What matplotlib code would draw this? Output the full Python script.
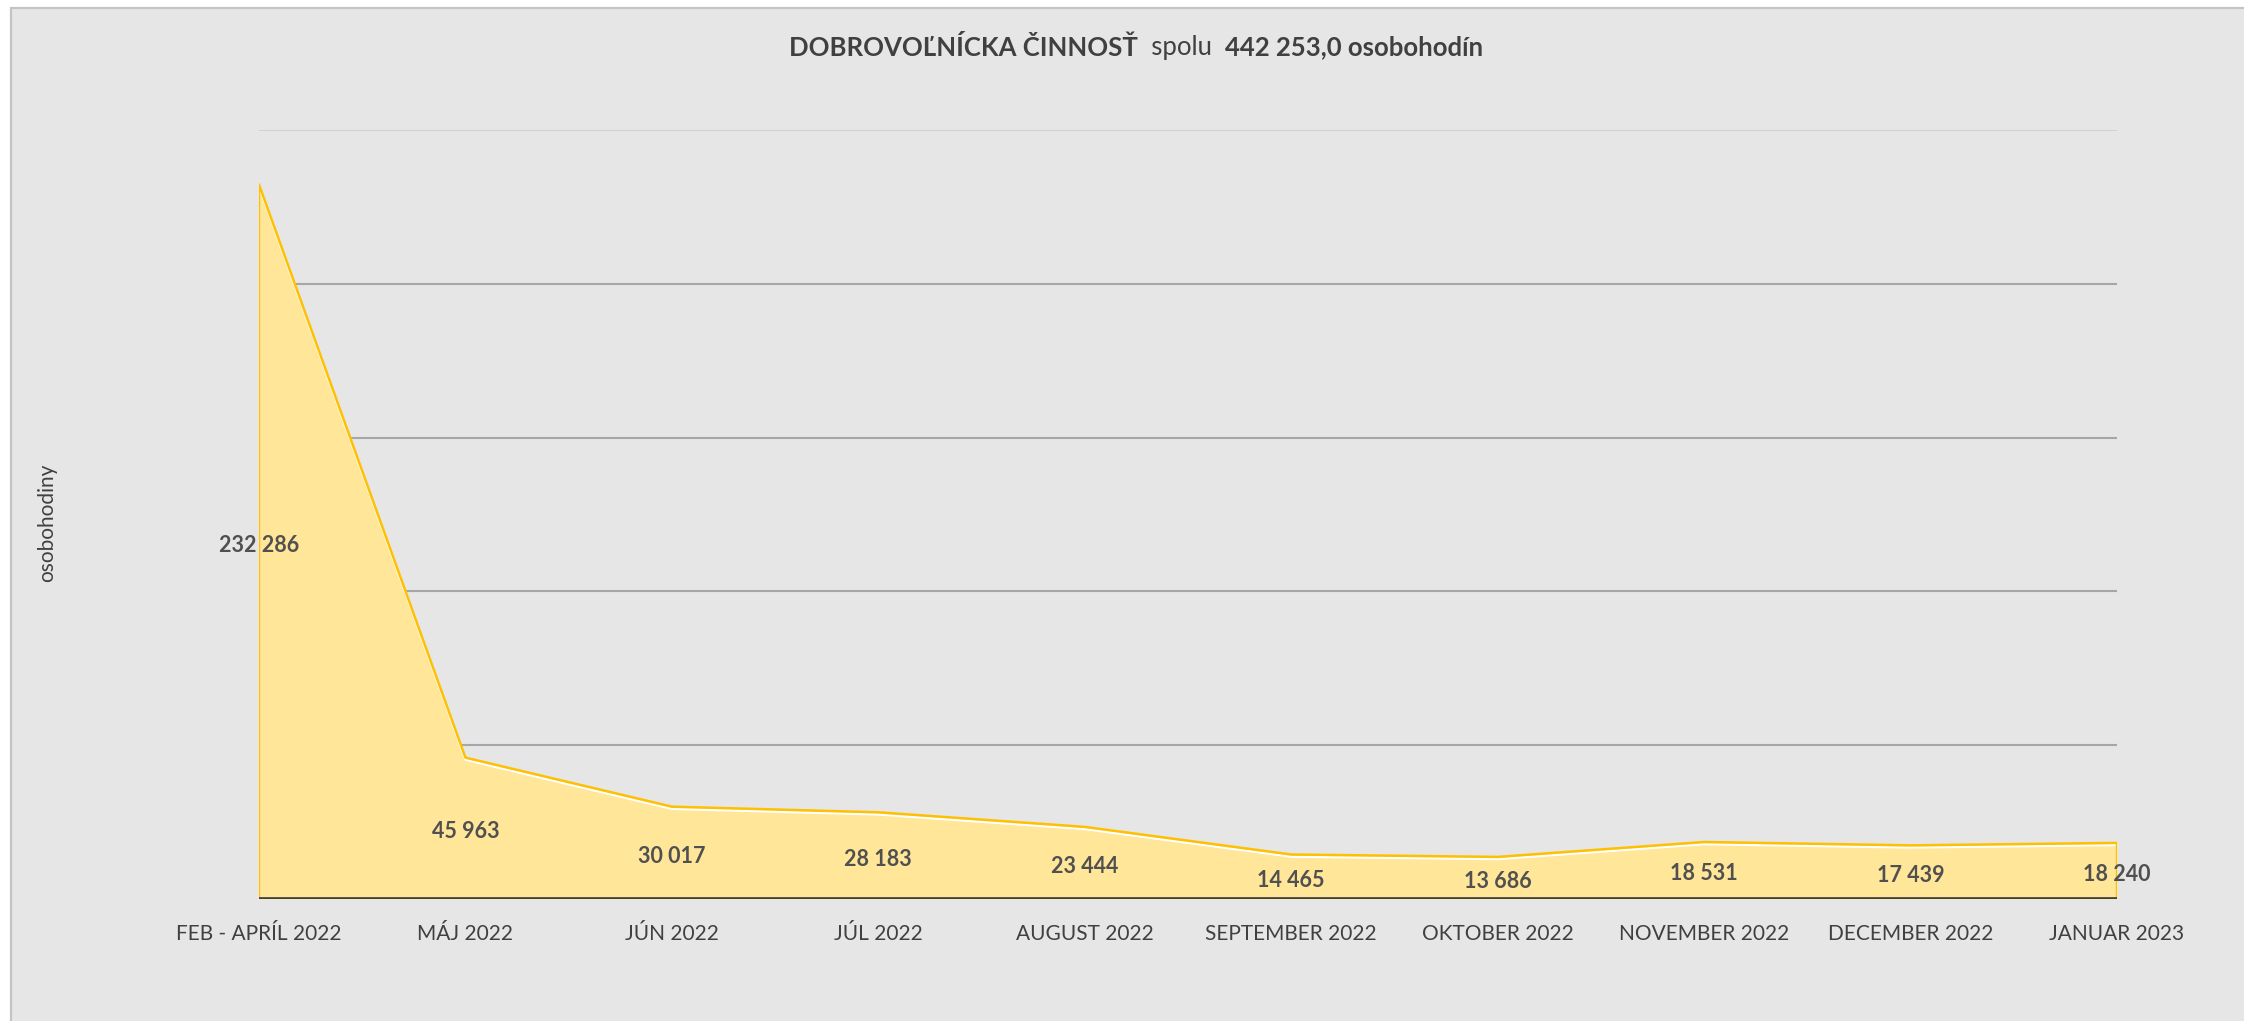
import matplotlib
matplotlib.use('Agg')

import matplotlib.pyplot as plt
import matplotlib.patches as mpatches
import matplotlib.patheffects as pe
import numpy as np

months = ['FEB - APRÍL 2022', 'MÁJ 2022', 'JÚN 2022', 'JÚL 2022', 'AUGUST 2022',
          'SEPTEMBER 2022', 'OKTOBER 2022', 'NOVEMBER 2022', 'DECEMBER 2022', 'JANUAR 2023']
hours = [232286, 45963, 30017, 28183, 23444, 14465, 13686, 18531, 17439, 18240]
y_ticks = [0, 50000, 100000, 150000, 200000, 250000]

plt.rcParams['font.family'] = ['Lato', 'DejaVu Sans']

W, H = 2244, 1021
fig = plt.figure(figsize=(W / 100, H / 100), dpi=100, facecolor='white')

# grey chart area with thin border
bg = mpatches.Rectangle((11 / W, -0.01), 1.0, 1 - 8 / H + 0.01, transform=fig.transFigure,
                        facecolor='#E6E6E6', edgecolor='#C4C4C4', linewidth=1.6, zorder=-5)
fig.patches.append(bg)

ax = fig.add_axes([259 / W, 1 - 899 / H, (2117 - 259) / W, (899 - 130) / H])
ax.set_facecolor('none')

x = np.arange(len(hours))
ax.set_xlim(0, len(hours) - 1)
ax.set_ylim(0, 250000)
ax.set_yticks(y_ticks)
ax.yaxis.grid(True, color='#A6A6A6', linewidth=1.5, zorder=0)
ax.set_axisbelow(True)
ax.get_ygridlines()[-1].set_color('#D0D0D0')
for s in ax.spines.values():
    s.set_visible(False)

ax.fill_between(x, hours, 0, color='#FFE699', linewidth=0, zorder=2)
ox = np.concatenate([[0], x, [x[-1]]])
oy = np.concatenate([[0], hours, [0]])
ax.plot(ox, oy, color='#FFC000', linewidth=1.8, zorder=3,
        path_effects=[pe.SimpleLineShadow(offset=(0, -1.6), shadow_color='white', alpha=1.0, linewidth=1.6),
                      pe.Normal()])
ax.axhline(0, color='#404040', linewidth=3.4, zorder=4)

for xi, v in zip(x, hours):
    ax.annotate(f"{v:,}".replace(',', ' '), (xi, v / 2), xytext=(0, -2.5), textcoords='offset points',
                ha='center', va='center', fontsize=15.5, fontweight='bold', color='#505050', zorder=5)

ax.set_xticks(x)
ax.set_xticklabels(months, fontsize=15, color='#404040')
ax.tick_params(axis='x', length=0, pad=18)
ax.tick_params(axis='y', length=0, labelleft=False)

fig.text(47 / W, 1 - 523 / H, 'osobohodiny', rotation=90, ha='center', va='center',
         fontsize=15, color='#404040')

# title made of bold / regular / bold parts
parts = [('DOBROVOĽNÍCKA ČINNOSŤ', 'bold'), ('  spolu  ', 'normal'), ('442 253,0 osobohodín', 'bold')]
r = fig.canvas.get_renderer()
texts = [fig.text(0, 1 - 47 / H, s, fontsize=18.5, fontweight=w, color='#404040',
                  ha='left', va='center') for s, w in parts]
widths = [t.get_window_extent(r).width for t in texts]
start = 1136 - sum(widths) / 2
for t, w in zip(texts, widths):
    t.set_x(start / W)
    start += w

fig.savefig('out.png', dpi=100, facecolor='white')
